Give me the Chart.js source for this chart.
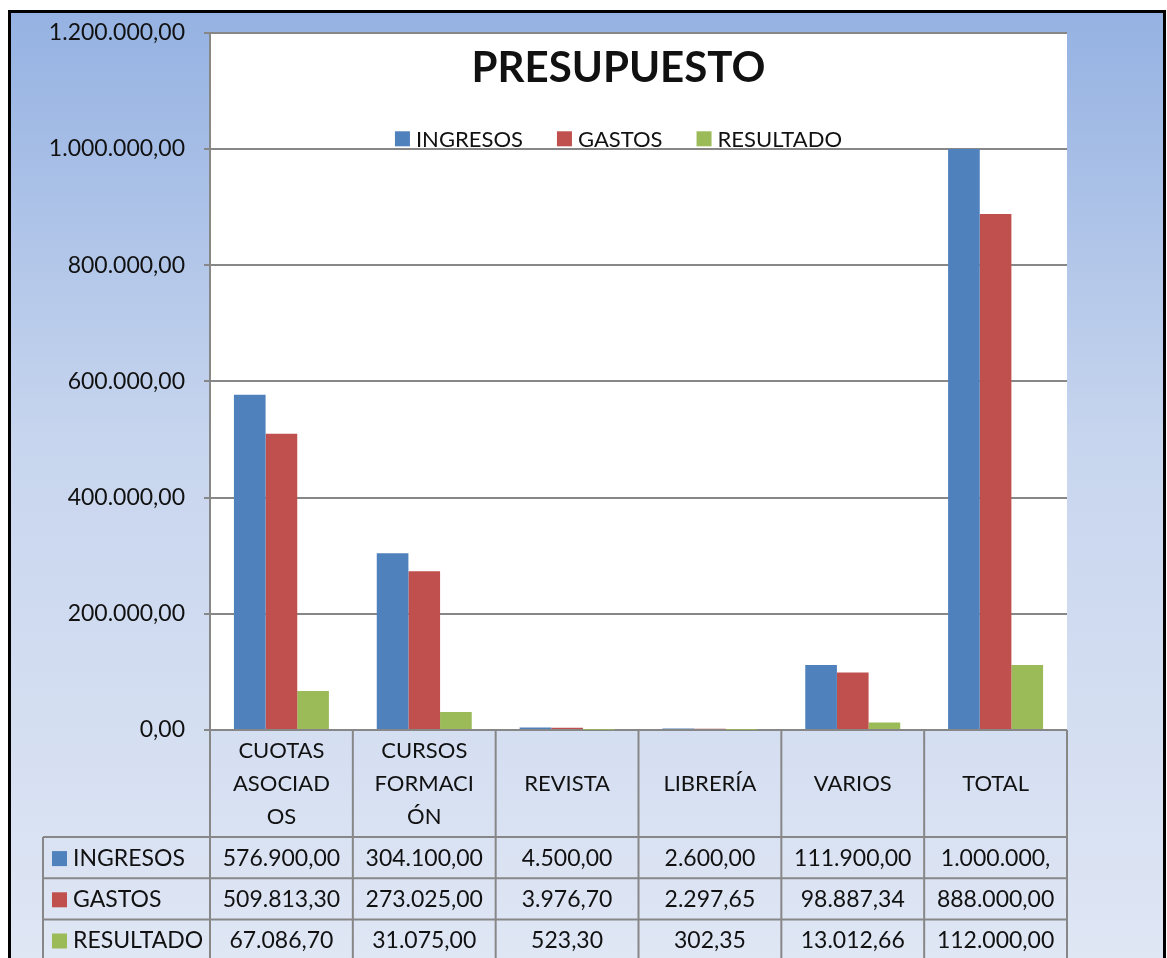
<!DOCTYPE html>
<html>
<head>
<meta charset="utf-8">
<title>Presupuesto</title>
<script src="https://cdn.jsdelivr.net/npm/chart.js@4.4.1/dist/chart.umd.min.js"></script>
<style>
  html, body { margin: 0; padding: 0; background: #fff; }
  #wrap { width: 1167px; height: 958px; position: relative; }
</style>
</head>
<body>
<div id="wrap"><canvas id="budgetChart"></canvas></div>
<script>
// Budget data
const categories = [
    ['CUOTAS', 'ASOCIAD', 'OS'],
    ['CURSOS', 'FORMACI', 'ÓN'],
    ['REVISTA'],
    ['LIBRERÍA'],
    ['VARIOS'],
    ['TOTAL']
];
const seriesNames = ['INGRESOS', 'GASTOS', 'RESULTADO'];
const ingresos = [576900.00, 304100.00, 4500.00, 2600.00, 111900.00, 1000000.00];
const gastos = [509813.30, 273025.00, 3976.70, 2297.65, 98887.34, 888000.00];
const resultado = [67086.70, 31075.00, 523.30, 302.35, 13012.66, 112000.00];
const yTicks = [0, 200000, 400000, 600000, 800000, 1000000, 1200000];

const colors = ['#4F81BD', '#C0504D', '#9BBB59'];
const FONT = 'Lato, "Open Sans", sans-serif';
const TEXT = '#111';
const LINE = '#878787';

// Spanish number format: 1.234.567,89
function fmtEs(v) {
    const parts = v.toFixed(2).split('.');
    const intPart = parts[0].replace(/\B(?=(\d{3})+(?!\d))/g, '.');
    return intPart + ',' + parts[1];
}

// Background, white plot area, frame
const backgroundPlugin = {
    id: 'background',
    beforeDraw(chart) {
        const { ctx, width, height, chartArea } = chart;
        ctx.save();
        ctx.fillStyle = '#fff';
        ctx.fillRect(0, 0, width, height);
        const grad = ctx.createLinearGradient(0, 12, 0, height);
        grad.addColorStop(0, '#95B2E2');
        grad.addColorStop(0.45, '#C7D5EE');
        grad.addColorStop(1, '#DFE6F4');
        ctx.fillStyle = grad;
        ctx.fillRect(8, 10, 1158, height);
        ctx.fillStyle = '#fff';
        ctx.fillRect(chartArea.left, chartArea.top, chartArea.right - chartArea.left, chartArea.bottom - chartArea.top);
        ctx.restore();
    },
    afterDraw(chart) {
        const { ctx, height } = chart;
        ctx.save();
        ctx.strokeStyle = '#000';
        ctx.lineWidth = 3;
        ctx.strokeRect(9.5, 11.5, 1155, height + 10);
        ctx.restore();
    }
};

// Title and legend drawn inside the plot area, like the spreadsheet
const titleLegendPlugin = {
    id: 'titleLegend',
    afterDatasetsDraw(chart) {
        const { ctx, chartArea } = chart;
        const cx = (chartArea.left + chartArea.right) / 2 - 20;
        ctx.save();
        ctx.fillStyle = TEXT;
        ctx.textAlign = 'center';
        ctx.textBaseline = 'middle';
        ctx.font = 'bold 42px ' + FONT;
        ctx.fillText('PRESUPUESTO', cx, chartArea.top + 36);

        // legend
        ctx.font = '22px ' + FONT;
        const box = 15, gap = 6, spacing = 34;
        const items = chart.data.datasets.map(ds => ({ label: ds.label, color: ds.backgroundColor }));
        let total = 0;
        items.forEach((it, i) => {
            it.w = ctx.measureText(it.label).width;
            total += box + gap + it.w + (i < items.length - 1 ? spacing : 0);
        });
        let x = cx - total / 2;
        const y = chartArea.top + 106;
        ctx.textAlign = 'left';
        items.forEach(it => {
            ctx.fillStyle = it.color;
            ctx.fillRect(x, y - box / 2, box, box);
            ctx.fillStyle = TEXT;
            ctx.fillText(it.label, x + box + gap, y + 1);
            x += box + gap + it.w + spacing;
        });
        ctx.restore();
    }
};

// Data table under the x axis
const dataTablePlugin = {
    id: 'dataTable',
    afterDraw(chart) {
        const { ctx } = chart;
        const xs = chart.scales.x;
        const top = chart.chartArea.bottom;
        const colW = (xs.right - xs.left) / chart.data.labels.length;
        const headerH = 107;
        const rowH = 41.2;
        const tableLeft = 43;
        const bottom = chart.height + 5;

        ctx.save();
        ctx.strokeStyle = LINE;
        ctx.lineWidth = 2;

        // vertical lines
        chart.data.labels.forEach((lab, i) => {
            const left = xs.getPixelForValue(i) - colW / 2;
            ctx.beginPath();
            ctx.moveTo(left, top);
            ctx.lineTo(left, bottom);
            ctx.stroke();
        });
        ctx.beginPath();
        ctx.moveTo(xs.right, top);
        ctx.lineTo(xs.right, bottom);
        ctx.moveTo(tableLeft, top + headerH);
        ctx.lineTo(tableLeft, bottom);
        ctx.stroke();

        // horizontal lines
        for (let r = 0; r <= chart.data.datasets.length; r++) {
            const y = top + headerH + r * rowH;
            ctx.beginPath();
            ctx.moveTo(tableLeft, y);
            ctx.lineTo(xs.right, y);
            ctx.stroke();
        }

        // category headers
        ctx.fillStyle = TEXT;
        ctx.font = '22px ' + FONT;
        ctx.textAlign = 'center';
        ctx.textBaseline = 'middle';
        const lineH = 33;
        chart.data.labels.forEach((lines, i) => {
            const cx = xs.getPixelForValue(i);
            const cy = top + headerH / 2;
            lines.forEach((ln, k) => {
                ctx.fillText(ln, cx, cy + (k - (lines.length - 1) / 2) * lineH);
            });
        });

        // series rows
        ctx.font = '23px ' + FONT;
        chart.data.datasets.forEach((ds, r) => {
            const cy = top + headerH + r * rowH + rowH / 2 + 1;
            ctx.fillStyle = ds.backgroundColor;
            ctx.fillRect(52, cy - 7.5, 15, 15);
            ctx.fillStyle = TEXT;
            ctx.textAlign = 'left';
            ctx.fillText(ds.label, 73, cy);
            ctx.textAlign = 'center';
            ds.data.forEach((v, i) => {
                // cells clip long numbers like the spreadsheet does
                let s = fmtEs(v);
                while (ctx.measureText(s).width > colW - 24 && s.length > 1) {
                    s = s.slice(0, -1);
                }
                ctx.fillText(s, xs.getPixelForValue(i), cy);
            });
        });
        ctx.restore();
    }
};

const ctx = document.getElementById('budgetChart');
new Chart(ctx, {
    type: 'bar',
    data: {
        labels: categories,
        datasets: [
            { label: seriesNames[0], data: ingresos, backgroundColor: colors[0] },
            { label: seriesNames[1], data: gastos, backgroundColor: colors[1] },
            { label: seriesNames[2], data: resultado, backgroundColor: colors[2] }
        ]
    },
    options: {
        responsive: true,
        maintainAspectRatio: false,
        animation: false,
        devicePixelRatio: 1,
        layout: {
            padding: { top: 26, right: 100, left: 0, bottom: 0 }
        },
        datasets: {
            bar: {
                barPercentage: 1,
                categoryPercentage: 0.665,
                borderWidth: 0
            }
        },
        plugins: {
            legend: { display: false },
            title: { display: false },
            tooltip: { enabled: false }
        },
        scales: {
            x: {
                grid: { display: false, drawTicks: false },
                border: { display: false },
                ticks: { display: false },
                afterFit(scale) { scale.height = 228; }
            },
            y: {
                min: 0,
                max: 1200000,
                afterBuildTicks(scale) {
                    scale.ticks = yTicks.map(v => ({ value: v }));
                },
                afterFit(scale) { scale.width = 210; },
                grid: {
                    color: LINE,
                    lineWidth: 2,
                    drawTicks: true,
                    tickLength: 6,
                    tickColor: LINE
                },
                border: { display: true, color: LINE, width: 2 },
                ticks: {
                    color: TEXT,
                    padding: 19,
                    font: { family: FONT, size: 23 },
                    callback: function(value) {
                        return fmtEs(value);
                    }
                }
            }
        }
    },
    plugins: [backgroundPlugin, titleLegendPlugin, dataTablePlugin]
});
</script>
</body>
</html>
